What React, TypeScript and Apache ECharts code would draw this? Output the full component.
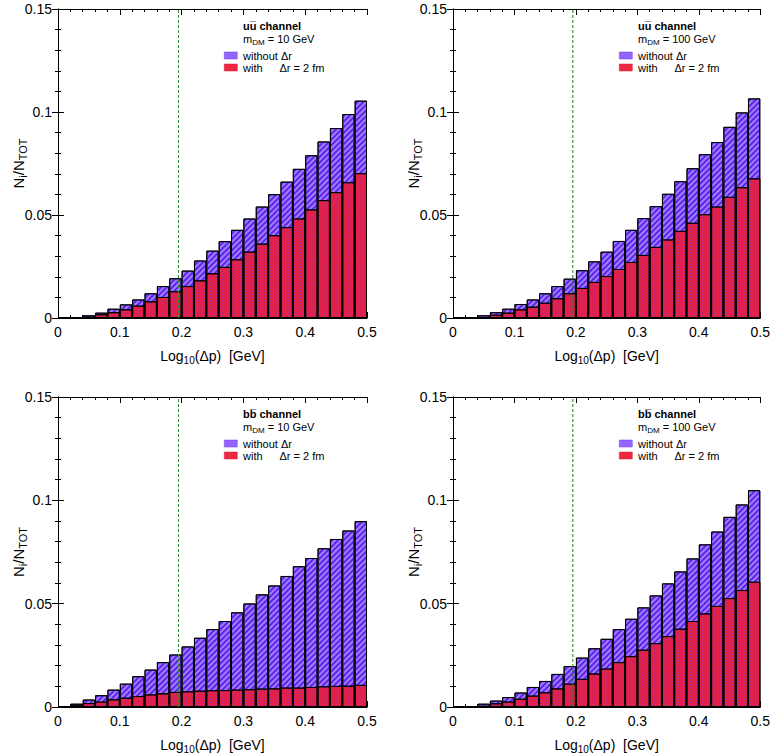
import React, { useEffect, useRef } from "react";
import * as echarts from "echarts";

const binCenters = ["0.01","0.03","0.05","0.07","0.09","0.11","0.13","0.15","0.17","0.19","0.21","0.23","0.25","0.27","0.29","0.31","0.33","0.35","0.37","0.39","0.41","0.43","0.45","0.47","0.49"];

const uu10Without = [0, 0.0003, 0.0013, 0.0026, 0.0045, 0.0066, 0.009, 0.012, 0.0155, 0.0193, 0.023, 0.0279, 0.0327, 0.0373, 0.0428, 0.0483, 0.0541, 0.0601, 0.0662, 0.0724, 0.079, 0.0857, 0.0922, 0.099, 0.1055];
const uu10With = [0, 0.0001, 0.0006, 0.0018, 0.0028, 0.0042, 0.006, 0.0081, 0.0102, 0.013, 0.0155, 0.0183, 0.0217, 0.0248, 0.0285, 0.0322, 0.0361, 0.0402, 0.0441, 0.0483, 0.0527, 0.0572, 0.0611, 0.0659, 0.0703];
const uu100Without = [0, 0.0003, 0.0013, 0.0028, 0.0045, 0.0068, 0.009, 0.012, 0.0155, 0.0191, 0.0232, 0.0275, 0.0322, 0.0374, 0.0428, 0.0485, 0.0543, 0.0603, 0.0664, 0.0727, 0.0795, 0.0854, 0.0928, 0.0998, 0.1066];
const uu100With = [0, 0.0001, 0.0005, 0.0016, 0.0026, 0.0042, 0.0055, 0.0074, 0.0096, 0.012, 0.0146, 0.0175, 0.0204, 0.0238, 0.0272, 0.0306, 0.0345, 0.0381, 0.0423, 0.0462, 0.0504, 0.0541, 0.0588, 0.0635, 0.0678];
const bb10Without = [0, 0.0016, 0.0036, 0.0057, 0.0084, 0.0113, 0.0149, 0.0181, 0.0217, 0.0254, 0.0293, 0.0335, 0.0377, 0.0416, 0.0458, 0.0501, 0.0545, 0.0588, 0.0634, 0.0681, 0.0721, 0.0768, 0.0813, 0.0854, 0.0899];
const bb10With = [0, 0.0011, 0.0019, 0.0026, 0.0037, 0.0045, 0.0053, 0.0061, 0.0066, 0.0073, 0.0076, 0.0079, 0.0081, 0.0082, 0.0084, 0.0086, 0.0089, 0.009, 0.0094, 0.0094, 0.0097, 0.01, 0.0102, 0.0103, 0.0107];
const bb100Without = [0, 0.0003, 0.0016, 0.0031, 0.0048, 0.007, 0.0097, 0.0126, 0.016, 0.0198, 0.0239, 0.0284, 0.033, 0.0377, 0.0427, 0.0482, 0.054, 0.0598, 0.0656, 0.0719, 0.0787, 0.0849, 0.092, 0.098, 0.1049];
const bb100With = [0, 0.0002, 0.0006, 0.0018, 0.0026, 0.004, 0.0055, 0.0071, 0.009, 0.0113, 0.0136, 0.0162, 0.0186, 0.0217, 0.0246, 0.0277, 0.0309, 0.0343, 0.0379, 0.0416, 0.0453, 0.0489, 0.0527, 0.0566, 0.0606];

const channelLabels = ["uu\u0305 channel", "uu\u0305 channel", "bb\u0305 channel", "bb\u0305 channel"];
const massLabels = ["10 GeV", "100 GeV", "10 GeV", "100 GeV"];
const cutValue = 0.195;
const xTicks = { min: 0, max: 0.5, interval: 0.1 };
const yTicks = { min: 0, max: 0.15, interval: 0.05 };

const panels = [
  { without: uu10Without, withR: uu10With, left: 58, top: 9, h: 309, cutColor: "#2f8f2f" },
  { without: uu100Without, withR: uu100With, left: 453, top: 9, h: 309, cutColor: "#1f7a1f" },
  { without: bb10Without, withR: bb10With, left: 58, top: 397, h: 310, cutColor: "#2f8f2f" },
  { without: bb100Without, withR: bb100With, left: 453, top: 397, h: 310, cutColor: "#1f7a1f" },
];

const FONT = "Liberation Sans";
const PW = 309;

export default function App() {
  const ref = useRef<HTMLDivElement>(null);
  useEffect(() => {
    if (!ref.current) return;
    const chart = echarts.init(ref.current, null, { renderer: "svg" });
    const grid: any[] = [];
    const xAxis: any[] = [];
    const yAxis: any[] = [];
    const series: any[] = [];
    const graphic: any[] = [];

    const tickCommon = {
      axisLine: { show: true, lineStyle: { color: "#000", width: 1 } },
      axisTick: { show: true, inside: true, length: 6, lineStyle: { color: "#000" } },
      minorTick: { show: true, splitNumber: 5, length: 3, lineStyle: { color: "#000" } },
      splitLine: { show: false },
      minorSplitLine: { show: false },
    };

    panels.forEach((p, i) => {
      grid.push({ left: p.left, top: p.top, width: PW, height: p.h, containLabel: false });
      xAxis.push({ type: "category", gridIndex: i, data: binCenters, show: false, boundaryGap: true });
      xAxis.push({
        type: "value", gridIndex: i, position: "bottom", ...xTicks, ...tickCommon,
        axisLabel: { fontFamily: FONT, fontSize: 14, color: "#000", margin: 7 },
        name: "{n|Log}{s|10}{n|(\u0394p)  [GeV]}",
        nameLocation: "middle", nameGap: 29, nameMoveOverlap: false,
        nameTextStyle: {
          rich: {
            n: { fontFamily: FONT, fontSize: 14, color: "#000", lineHeight: 18 },
            s: { fontFamily: FONT, fontSize: 10, color: "#000", lineHeight: 10, verticalAlign: "bottom" },
          },
        },
      });
      xAxis.push({
        type: "value", gridIndex: i, position: "top", ...xTicks, ...tickCommon,
        axisLabel: { show: false },
      });
      yAxis.push({
        type: "value", gridIndex: i, position: "left", ...yTicks, ...tickCommon,
        axisLabel: { fontFamily: FONT, fontSize: 14, color: "#000", margin: 6 },
        name: "{n|N}{s|i}{n|/N}{s|TOT}",
        nameLocation: "middle", nameGap: 30, nameMoveOverlap: false,
        nameTextStyle: {
          rich: {
            n: { fontFamily: FONT, fontSize: 15, color: "#000", lineHeight: 19 },
            s: { fontFamily: FONT, fontSize: 11, color: "#000", lineHeight: 11, verticalAlign: "bottom" },
          },
        },
      });
      yAxis.push({
        type: "value", gridIndex: i, position: "right", ...yTicks, ...tickCommon,
        axisLabel: { show: false },
      });

      series.push({
        type: "bar", name: "without", xAxisIndex: 3 * i, yAxisIndex: 2 * i,
        data: p.without, barGap: "-100%", barCategoryGap: "0%",
        itemStyle: {
          color: "#a47cff", borderColor: "#000", borderWidth: 1,
          decal: { symbol: "rect", symbolSize: 1, color: "#5a26ec", dashArrayX: [1, 0], dashArrayY: [2, 2], rotation: -Math.PI / 4 },
        },
      });
      series.push({
        type: "bar", name: "with", xAxisIndex: 3 * i, yAxisIndex: 2 * i,
        data: p.withR, barGap: "-100%", barCategoryGap: "0%",
        itemStyle: {
          color: "#e22048", borderColor: "#000", borderWidth: 1,
          decal: { symbol: "rect", symbolSize: 1, color: "#a82c9c", dashArrayX: [1, 2], dashArrayY: [1, 2] },
        },
      });
      series.push({
        type: "line", xAxisIndex: 3 * i + 1, yAxisIndex: 2 * i, symbol: "none", silent: true,
        data: [[cutValue, yTicks.min], [cutValue, yTicks.max]],
        lineStyle: { color: p.cutColor, width: 1, type: [3, 2] }, z: 5,
      });

      const R = p.left + PW;
      const T = p.top;
      graphic.push({
        type: "text", x: R - 124, y: T + 17,
        style: { text: channelLabels[i], font: `bold 11px "${FONT}"`, fill: "#000", verticalAlign: "middle" },
      });
      graphic.push({
        type: "text", x: R - 124, y: T + 30,
        style: {
          text: `{m|m}{s|DM}{m| = ${massLabels[i]}}`, verticalAlign: "middle",
          rich: {
            m: { fontFamily: FONT, fontSize: 11, fill: "#000", lineHeight: 14 },
            s: { fontFamily: FONT, fontSize: 8, fill: "#000", lineHeight: 8, verticalAlign: "bottom" },
          },
        },
      });
      graphic.push({ type: "rect", shape: { x: R - 142.7, y: T + 43, width: 13, height: 7 }, style: { fill: "#9466ff", stroke: "#6a3cf0", lineWidth: 0.5 } });
      graphic.push({ type: "rect", shape: { x: R - 142.7, y: T + 55, width: 13, height: 7 }, style: { fill: "#ee2840", stroke: "#d02030", lineWidth: 0.5 } });
      graphic.push({
        type: "text", x: R - 124, y: T + 46.5,
        style: { text: "without \u0394r", font: `11px "${FONT}"`, fill: "#000", verticalAlign: "middle" },
      });
      graphic.push({
        type: "text", x: R - 124, y: T + 58.5,
        style: { text: "with", font: `11px "${FONT}"`, fill: "#000", verticalAlign: "middle" },
      });
      graphic.push({
        type: "text", x: R - 87.5, y: T + 58.5,
        style: { text: "\u0394r = 2 fm", font: `11px "${FONT}"`, fill: "#000", verticalAlign: "middle" },
      });
    });

    chart.setOption({
      animation: false,
      backgroundColor: "#fff",
      grid, xAxis, yAxis, series, graphic,
    });
    return () => chart.dispose();
  }, []);
  return <div ref={ref} style={{ position: "absolute", left: 0, top: 0, width: 773, height: 756 }} />;
}
